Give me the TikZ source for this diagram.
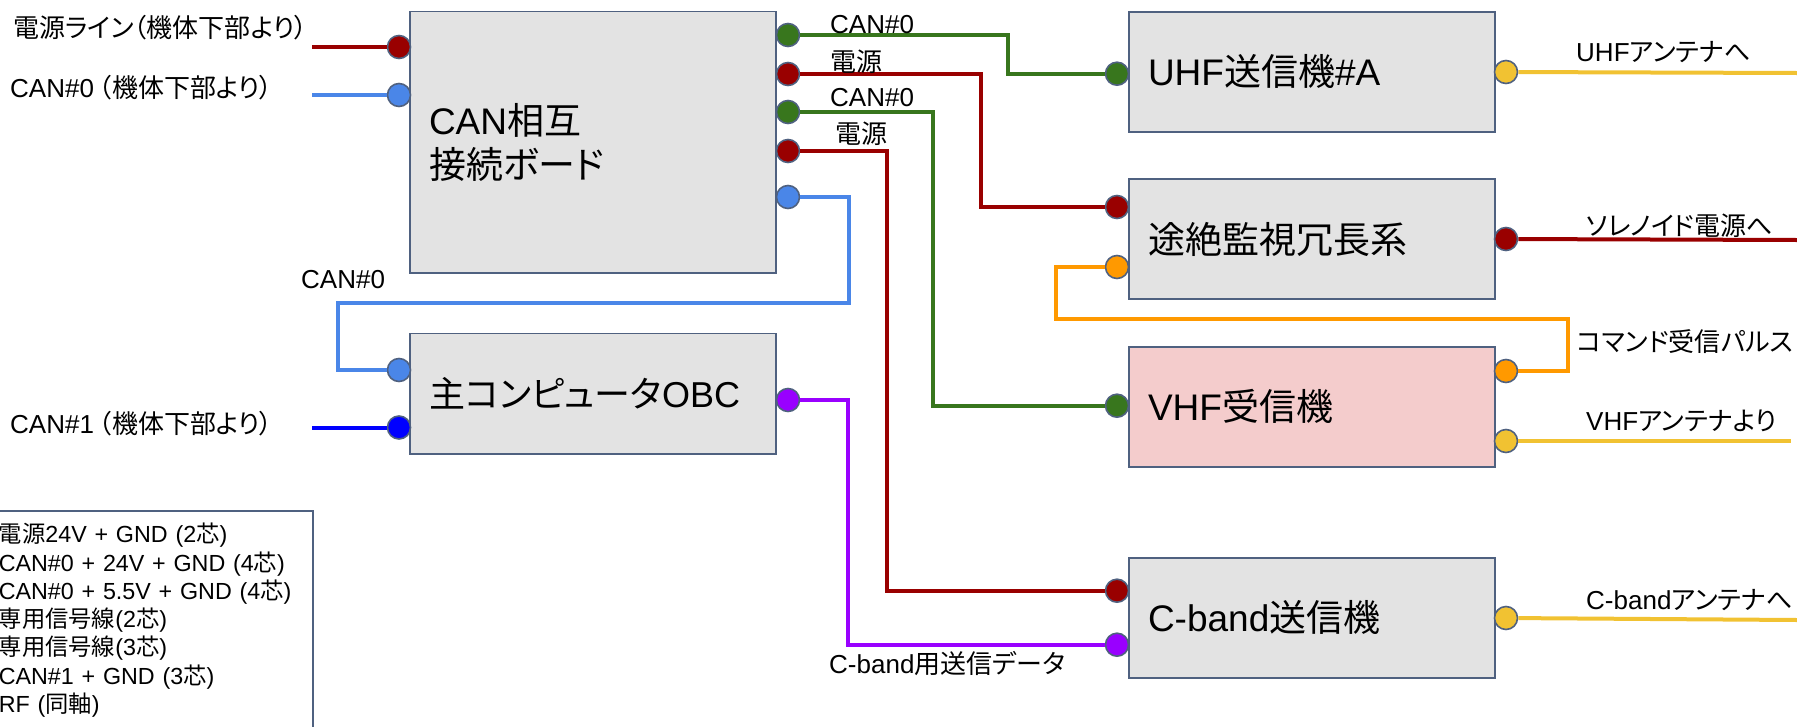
\documentclass[tikz,border=0pt]{standalone}
\usepackage{fontspec}
\setmainfont{Liberation Sans}
\newfontfamily\jpfont[RawFeature=+palt]{Noto Sans CJK JP}
\newcommand{\jp}[1]{{\jpfont #1}}
\definecolor{edgecol}{HTML}{4F6180}
\definecolor{boxgray}{HTML}{E3E3E3}
\definecolor{boxpink}{HTML}{F4CCCC}
\definecolor{wirered}{HTML}{990000}
\definecolor{wireblue}{HTML}{4A86E8}
\definecolor{wiregreen}{HTML}{38761D}
\definecolor{wireorange}{HTML}{FF9900}
\definecolor{wireyellow}{HTML}{F1C232}
\definecolor{wirepurple}{HTML}{9900FF}
\definecolor{wirepure}{HTML}{0000FF}
\tikzset{
  unit/.style={draw=edgecol, line width=1.6pt, fill=boxgray, inner xsep=19pt, inner ysep=0pt, align=left, font=\fontsize{37}{44}\selectfont},
  port/.style={circle, draw=edgecol, line width=1.6pt, minimum size=23pt, inner sep=0pt},
  wire/.style={line width=4pt, line join=miter},
  lbl/.style={anchor=west, inner sep=0pt, font=\fontsize{26}{30}\selectfont}
}
\begin{document}
\begin{tikzpicture}[x=1pt,y=-1pt]
\useasboundingbox (0,0) rectangle (1797,726);
\node[unit, minimum width=366pt, minimum height=261.5pt, text width=328pt] (board) at (593,142.2) {CAN\jp{相互}\\\jp{接続ボード}};
\node[unit, font=\fontsize{36}{44}\selectfont, minimum width=366pt, minimum height=120.5pt, text width=328pt] (obc) at (593,393.7) {\jp{主コンピュータ}OBC};
\node[unit, minimum width=366pt, minimum height=120pt, text width=328pt] (uhf) at (1312,71.7) {UHF\jp{送信機}\#A};
\node[unit, minimum width=366pt, minimum height=120pt, text width=328pt] (watch) at (1312,239) {\jp{途絶監視冗長系}};
\node[unit, fill=boxpink, minimum width=366pt, minimum height=120pt, text width=328pt] (vhf) at (1312,406.7) {VHF\jp{受信機}};
\node[unit, minimum width=366pt, minimum height=120pt, text width=328pt] (cband) at (1312,617.7) {C-band\jp{送信機}};
\node[draw=edgecol, line width=1.6pt, anchor=north west, inner xsep=2pt, inner ysep=0pt, text width=312pt, minimum height=219pt, align=left, font=\fontsize{23.3}{28.3}\selectfont] (legend) at (-4,510) {\jp{電源}24V + GND (2\jp{芯})\\CAN\#0 + 24V + GND (4\jp{芯})\\CAN\#0 + 5.5V + GND (4\jp{芯})\\\jp{専用信号線}(2\jp{芯})\\\jp{専用信号線}(3\jp{芯})\\CAN\#1 + GND (3\jp{芯})\\RF (\jp{同軸})};
\foreach \name/\x/\y/\col in {pwrin/399/47/wirered, canin/399/95/wireblue, canone/399/427.5/wirepure, obcup/399/370/wireblue, obcout/788/400/wirepurple, bda/788/35/wiregreen, bdb/788/74/wirered, bdc/788/112/wiregreen, bdd/788/151/wirered, bde/788/197/wireblue, uhfin/1117/73.7/wiregreen, watchin/1117/207/wirered, watchcmd/1117/267/wireorange, vhfin/1117/405.7/wiregreen, cbpwr/1117/590.7/wirered, cbdata/1117/644.7/wirepurple, uhfout/1506/72/wireyellow, solout/1506/239/wirered, vhfcmd/1506/371/wireorange, vhfant/1506/441/wireyellow, cbout/1506/618/wireyellow}
    \node[port, fill=\col] (\name) at (\x,\y) {};
\coordinate (pwrend) at (312,47);
\coordinate (canend) at (312,95);
\coordinate (oneend) at (312,427.5);
\coordinate (uhfend) at (1797,73);
\coordinate (solend) at (1797,240);
\coordinate (vhfend) at (1791,441);
\coordinate (cbend) at (1797,620);
\draw[wire, wirered] (pwrend) -- (pwrin);
\draw[wire, wireblue] (canend) -- (canin);
\draw[wire, wirepure] (oneend) -- (canone);
\draw[wire, wireyellow] (uhfout) -- (uhfend);
\draw[wire, wirered] (solout) -- (solend);
\draw[wire, wireyellow] (vhfant) -- (vhfend);
\draw[wire, wireyellow] (cbout) -- (cbend);
\draw[wire, wiregreen] (bda) -| (1008,55) |- (uhfin);
\draw[wire, wirered] (bdb) -| (980.7,140) |- (watchin);
\draw[wire, wiregreen] (bdc) -| (932.7,250) |- (vhfin);
\draw[wire, wirered] (bdd) -| (887,400) |- (cbpwr);
\draw[wire, wireblue] (bde) -| (849,302.5) -- (338,302.5) |- (obcup);
\draw[wire, wirepurple] (obcout) -| (848,500) |- (cbdata);
\draw[wire, wireorange] (watchcmd) -| (1055.7,319) -- (1567.7,319) |- (vhfcmd);
\node[lbl] (lpwr) at (13,28) {\jp{電源ライン（機体下部より）}};
\node[lbl] (lcan) at (10,88) {CAN\#0\hspace{5pt}\jp{（機体下部より）}};
\node[lbl] (lone) at (10,424) {CAN\#1\hspace{5pt}\jp{（機体下部より）}};
\node[lbl] (lbus) at (301,280) {CAN\#0};
\node[lbl] (la) at (830,25) {CAN\#0};
\node[lbl] (lb) at (830,62) {\jp{電源}};
\node[lbl] (lc) at (830,98) {CAN\#0};
\node[lbl] (ld) at (835,134) {\jp{電源}};
\node[lbl] (lsend) at (829,664) {C-band\jp{用送信データ}};
\node[lbl] (luhf) at (1576,52) {UHF\jp{アンテナへ}};
\node[lbl] (lsol) at (1586,226) {\jp{ソレノイド電源へ}};
\node[lbl] (lcmd) at (1577,342) {\jp{コマンド受信パルス}};
\node[lbl] (lvhf) at (1586,421) {VHF\jp{アンテナより}};
\node[lbl] (lcb) at (1586,600) {C-band\jp{アンテナへ}};
\end{tikzpicture}
\end{document}
